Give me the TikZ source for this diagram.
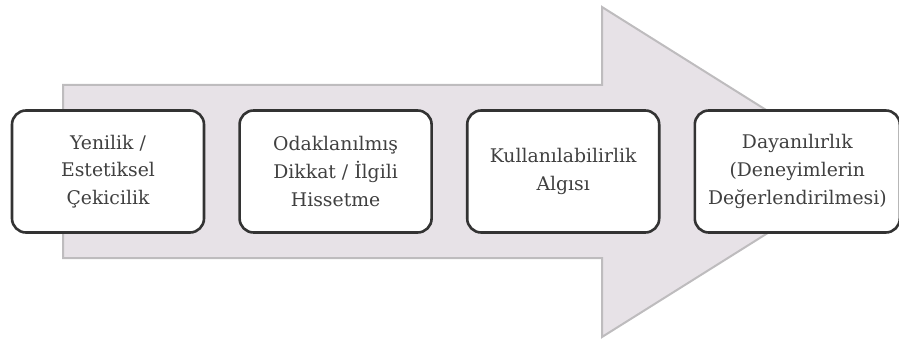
\documentclass[tikz,border=0pt]{standalone}
\usepackage{fontspec}
\setmainfont{DejaVu Serif}
\usepackage{xcolor}
\usetikzlibrary{positioning}
\definecolor{arrowfill}{RGB}{231,226,231}
\definecolor{arrowline}{RGB}{190,188,190}
\definecolor{boxline}{RGB}{51,51,51}
\definecolor{boxtext}{RGB}{64,64,64}

\begin{document}
\begin{tikzpicture}[
  x=1pt, y=-1pt,
  font=\fontsize{18.8}{27.7}\selectfont,
  phase/.style={draw=boxline, line width=2.6pt, rounded corners=14pt, fill=white, text=boxtext,
    align=center, minimum width=192pt, minimum height=122pt, inner sep=2pt}
]
\useasboundingbox (0,0) rectangle (899,342);
% big background arrow
\draw[arrowline, line width=2pt, fill=arrowfill]
  (63,85) -- (602,85) -- (602,7) -- (865,172) -- (602,337) -- (602,258) -- (63,258) -- cycle;
% the four phases, left to right
\node[phase] (p1) at (108,171.5) {Yenilik /\\Estetiksel\\Çekicilik};
\node[phase, right=33pt of p1] (p2) {Odaklanılmış\\Dikkat / İlgili\\Hissetme};
\node[phase, right=33pt of p2] (p3) {Kullanılabilirlik\\Algısı};
\node[phase, right=33pt of p3, minimum width=205pt] (p4) {Dayanılırlık\\(Deneyimlerin\\Değerlendirilmesi)};
\end{tikzpicture}
\end{document}
